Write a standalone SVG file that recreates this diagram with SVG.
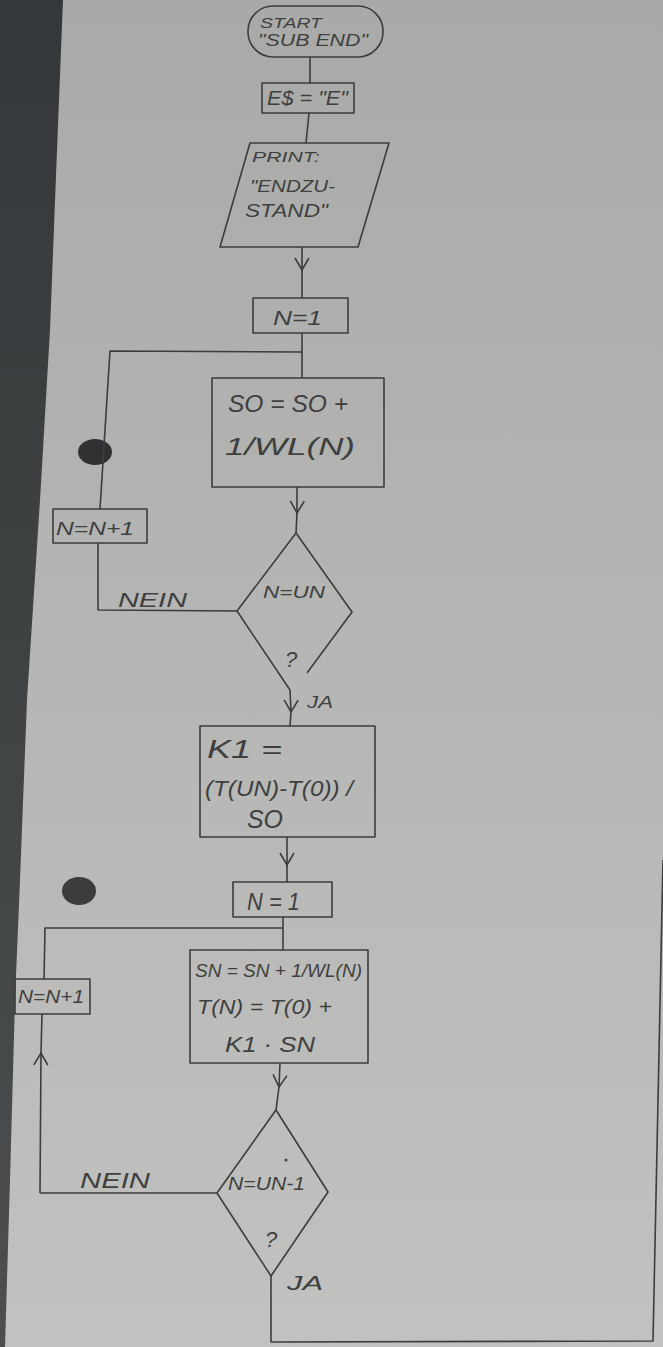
<svg xmlns="http://www.w3.org/2000/svg" width="663" height="1347" viewBox="0 0 663 1347">
<style>
.shape{fill:none;stroke:#3b3c3c;stroke-width:1.6;stroke-linejoin:round}
.conn{fill:none;stroke:#3b3c3c;stroke-width:1.6;stroke-linejoin:round}
.t{font-family:"Liberation Sans",Arial,sans-serif;font-style:italic;fill:#3e3f3f}
</style>
<defs>
<linearGradient id="paper" x1="0" y1="0" x2="0" y2="1">
<stop offset="0" stop-color="#a9aaa8"/>
<stop offset="0.5" stop-color="#b6b7b5"/>
<stop offset="1" stop-color="#c1c1bf"/>
</linearGradient>
<linearGradient id="dark" x1="0" y1="0" x2="0" y2="1">
<stop offset="0" stop-color="#34383a"/>
<stop offset="1" stop-color="#4b4e4e"/>
</linearGradient>
<marker id="chev" markerUnits="userSpaceOnUse" markerWidth="20" markerHeight="20" viewBox="-14 -10 20 20" refX="0" refY="0" orient="auto">
<path d="M-12,-7 L0,0 L-12,7" fill="none" stroke="#3b3c3c" stroke-width="1.6"/>
</marker>
</defs>
<g id="background">
<rect x="0" y="0" width="663" height="1347" fill="url(#paper)"/>
<polygon points="0,0 63,0 57,150 50,330 40,500 27,700 20,880 15,1000 10,1180 5,1347 0,1347" fill="url(#dark)"/>
<ellipse cx="95" cy="452" rx="17" ry="13" fill="#2f3132"/>
<ellipse cx="79" cy="891" rx="17" ry="14" fill="#3a3c3d"/>
</g>
<g id="connectors">
<polyline class="conn" points="310,57 310,83"/>
<polyline class="conn" points="309,113 306,143"/>
<polyline class="conn" points="302,247 302,270 302,298" marker-mid="url(#chev)"/>
<polyline class="conn" points="302,333 302,378"/>
<polyline class="conn" points="302,352 110,351 100,509"/>
<polyline class="conn" points="98,543 98,610 237,611"/>
<polyline class="conn" points="297,487 297,513 296,533" marker-mid="url(#chev)"/>
<polyline class="conn" points="290,690 291,712 290,726" marker-mid="url(#chev)"/>
<polyline class="conn" points="287,837 287,865 287,882" marker-mid="url(#chev)"/>
<polyline class="conn" points="283,917 283,950"/>
<polyline class="conn" points="283,928 45,928 44,979"/>
<polyline class="conn" points="217,1193 40,1193"/>
<polyline class="conn" points="40,1193 41,1053 42,1014" marker-mid="url(#chev)"/>
<polyline class="conn" points="280,1063 279,1087 276,1110" marker-mid="url(#chev)"/>
<polyline class="conn" points="271,1276 271,1342 653,1341 663,860"/>
</g>
<g id="start">
<rect class="shape" x="248" y="6" width="135" height="51" rx="25" ry="25"/>
<text class="t" x="260" y="28" font-size="15" textLength="62" lengthAdjust="spacingAndGlyphs">START</text>
<text class="t" x="258" y="46" font-size="16" textLength="110" lengthAdjust="spacingAndGlyphs">"SUB END"</text>
</g>
<g id="assign-e">
<rect class="shape" x="262" y="83" width="92" height="30"/>
<text class="t" x="267" y="105" font-size="20" textLength="81" lengthAdjust="spacingAndGlyphs">E$ = "E"</text>
</g>
<g id="print">
<polygon class="shape" points="250,143 389,143 358,247 220,247"/>
<text class="t" x="252" y="162" font-size="15" textLength="68" lengthAdjust="spacingAndGlyphs">PRINT:</text>
<text class="t" x="250" y="192" font-size="17" textLength="85" lengthAdjust="spacingAndGlyphs">"ENDZU-</text>
<text class="t" x="245" y="217" font-size="19" textLength="83" lengthAdjust="spacingAndGlyphs">STAND"</text>
</g>
<g id="init-n-1">
<rect class="shape" x="253" y="298" width="95" height="35"/>
<text class="t" x="273" y="325" font-size="20" textLength="49" lengthAdjust="spacingAndGlyphs">N=1</text>
</g>
<g id="sum-so">
<rect class="shape" x="212" y="378" width="172" height="109"/>
<text class="t" x="228" y="412" font-size="24" textLength="120" lengthAdjust="spacingAndGlyphs">SO = SO +</text>
<text class="t" x="225" y="455" font-size="24" textLength="130" lengthAdjust="spacingAndGlyphs">1/WL(N)</text>
</g>
<g id="inc-n-1">
<rect class="shape" x="53" y="509" width="94" height="34"/>
<text class="t" x="56" y="535" font-size="18" textLength="78" lengthAdjust="spacingAndGlyphs">N=N+1</text>
</g>
<g id="decision-1">
<path class="shape" d="M290,690 L237,611 L296,533 L352,612 L307,673"/>
<text class="t" x="263" y="598" font-size="17" textLength="62" lengthAdjust="spacingAndGlyphs">N=UN</text>
<text class="t" x="291" y="667" font-size="22" text-anchor="middle">?</text>
<text class="t" x="118" y="607" font-size="20" textLength="69" lengthAdjust="spacingAndGlyphs">NEIN</text>
<text class="t" x="307" y="708" font-size="17" textLength="26" lengthAdjust="spacingAndGlyphs">JA</text>
</g>
<g id="calc-k1">
<rect class="shape" x="200" y="726" width="175" height="111"/>
<text class="t" x="207" y="758" font-size="26" textLength="75" lengthAdjust="spacingAndGlyphs">K1 =</text>
<text class="t" x="205" y="796" font-size="22" textLength="148" lengthAdjust="spacingAndGlyphs">(T(UN)-T(0)) /</text>
<text class="t" x="247" y="828" font-size="26" textLength="36" lengthAdjust="spacingAndGlyphs">SO</text>
</g>
<g id="init-n-2">
<rect class="shape" x="233" y="882" width="99" height="35"/>
<text class="t" x="247" y="910" font-size="24" textLength="53" lengthAdjust="spacingAndGlyphs">N = 1</text>
</g>
<g id="calc-t">
<rect class="shape" x="190" y="950" width="178" height="113"/>
<text class="t" x="195" y="977" font-size="19" textLength="167" lengthAdjust="spacingAndGlyphs">SN = SN + 1/WL(N)</text>
<text class="t" x="197" y="1014" font-size="20" textLength="135" lengthAdjust="spacingAndGlyphs">T(N) = T(0) +</text>
<text class="t" x="225" y="1052" font-size="22" textLength="90" lengthAdjust="spacingAndGlyphs">K1 · SN</text>
</g>
<g id="inc-n-2">
<rect class="shape" x="15" y="979" width="75" height="35"/>
<text class="t" x="18" y="1003" font-size="18" textLength="66" lengthAdjust="spacingAndGlyphs">N=N+1</text>
</g>
<g id="decision-2">
<polygon class="shape" points="276,1110 328,1192 271,1276 217,1193"/>
<text class="t" x="228" y="1190" font-size="18" textLength="77" lengthAdjust="spacingAndGlyphs">N=UN-1</text>
<circle cx="286" cy="1160" r="1.5" fill="#3e3f3f"/>
<text class="t" x="271" y="1247" font-size="22" text-anchor="middle">?</text>
<text class="t" x="80" y="1188" font-size="22" textLength="70" lengthAdjust="spacingAndGlyphs">NEIN</text>
<text class="t" x="287" y="1290" font-size="20" textLength="36" lengthAdjust="spacingAndGlyphs">JA</text>
</g>
</svg>
